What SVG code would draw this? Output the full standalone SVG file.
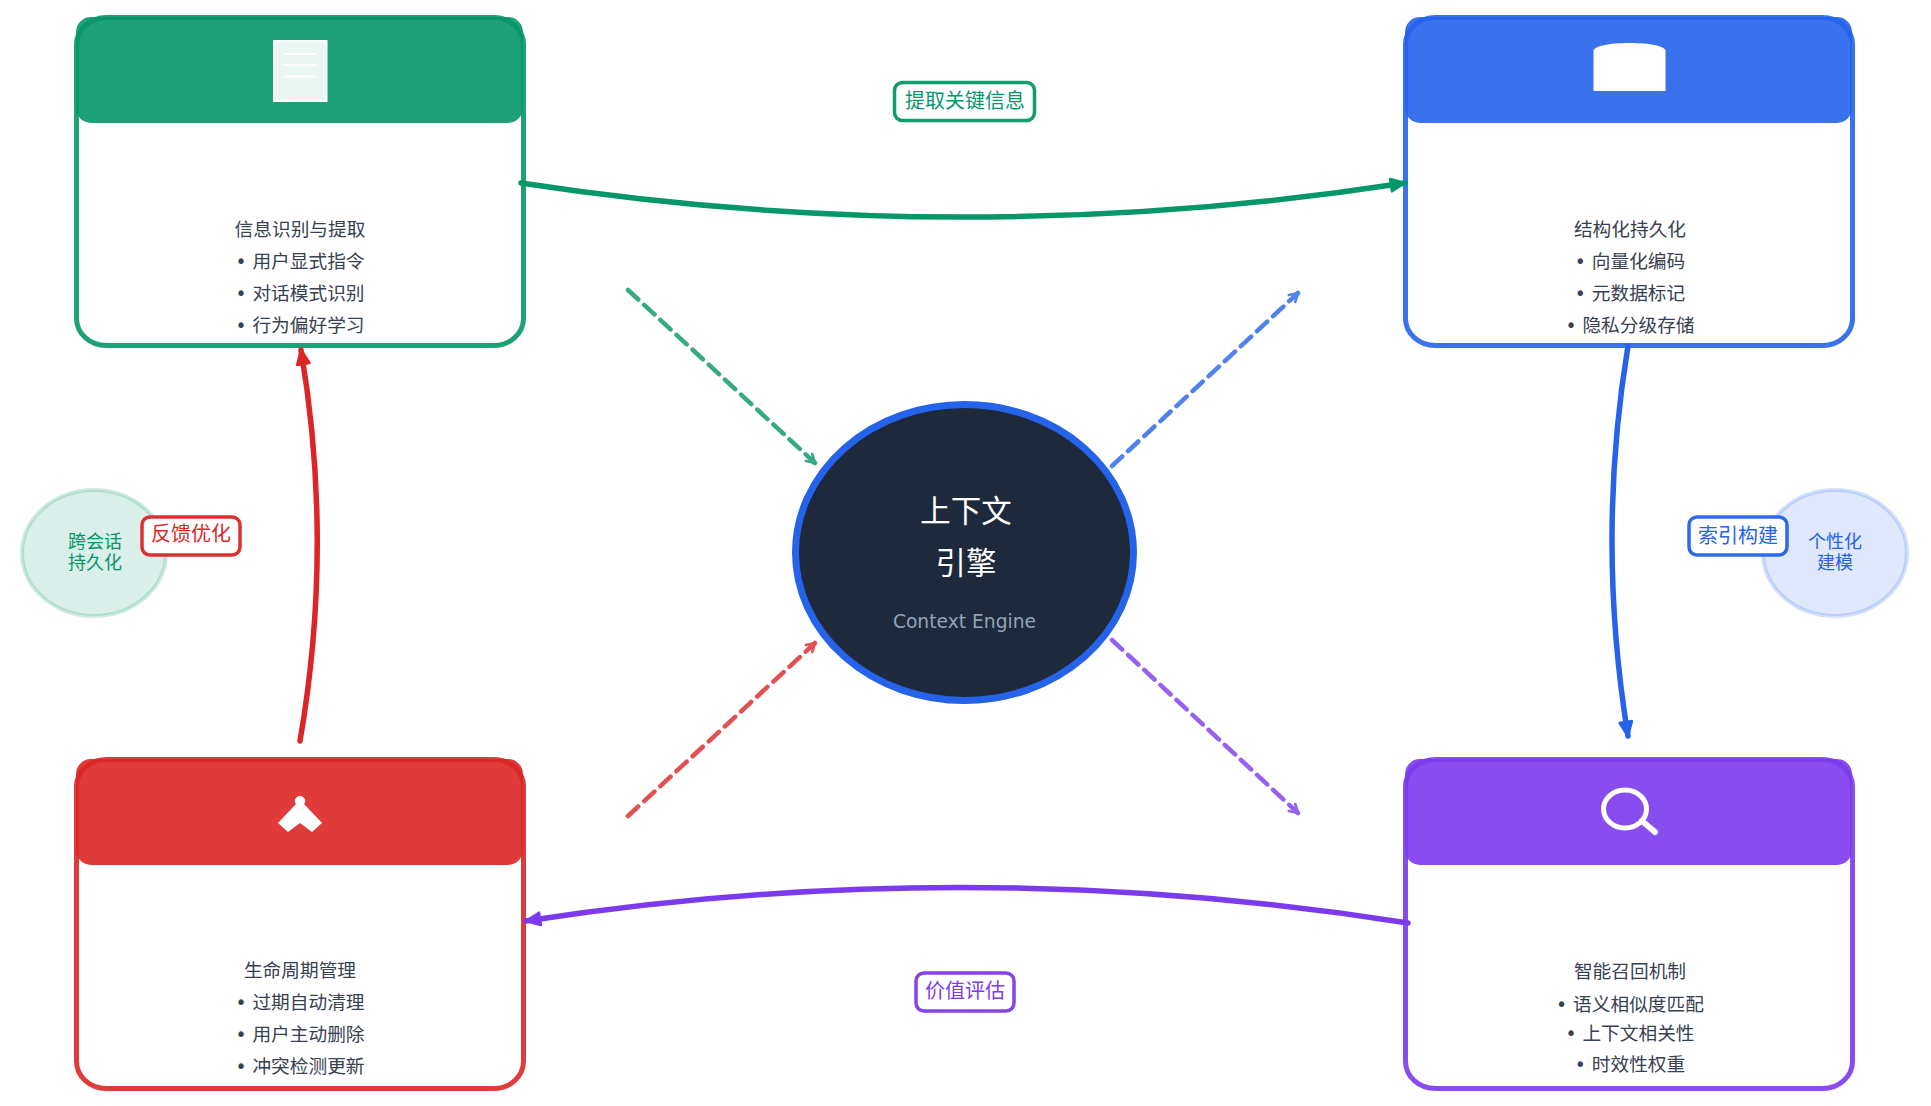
<svg xmlns="http://www.w3.org/2000/svg" width="1931" height="1106" viewBox="0 0 1931 1106">
<style>
text{font-family:"DejaVu Sans","Noto Sans CJK SC",sans-serif;text-anchor:middle}
.card{fill:#fff;stroke-width:5;stroke-opacity:.9}
.hd{opacity:.9}
.body{font-size:18.700px;fill:#374151}
.flow{fill:none;stroke-width:5.500;stroke-linecap:round}
.dash{fill:none;stroke-width:4.500;stroke-dasharray:14 8;stroke-linecap:round;opacity:.8}
.lab{fill:#fff;stroke-width:3.500;opacity:.95}
.labt{font-size:20px}
.side{font-size:18px}
.g{stroke:#059669}.b{stroke:#2563eb}.p{stroke:#7c3aed}.r{stroke:#dc2626}
.ah{stroke-linejoin:round;stroke-width:1.500}
.dh{fill:none;stroke-width:2;stroke-linecap:round;stroke-linejoin:round}
</style>
<defs>
<marker id="mg" viewBox="0 0 10 10" refX="9" refY="5" markerWidth="3.200" markerHeight="3.200" orient="auto"><path class="ah" d="M1 1.500L9 5L1 8.500z" fill="#059669" stroke="#059669"/></marker>
<marker id="mb" viewBox="0 0 10 10" refX="9" refY="5" markerWidth="3.200" markerHeight="3.200" orient="auto"><path class="ah" d="M1 1.500L9 5L1 8.500z" fill="#2563eb" stroke="#2563eb"/></marker>
<marker id="mp" viewBox="0 0 10 10" refX="9" refY="5" markerWidth="3.200" markerHeight="3.200" orient="auto"><path class="ah" d="M1 1.500L9 5L1 8.500z" fill="#7c3aed" stroke="#7c3aed"/></marker>
<marker id="mr" viewBox="0 0 10 10" refX="9" refY="5" markerWidth="3.200" markerHeight="3.200" orient="auto"><path class="ah" d="M1 1.500L9 5L1 8.500z" fill="#dc2626" stroke="#dc2626"/></marker>
<marker id="dg" viewBox="0 0 10 10" refX="9" refY="5" markerWidth="3" markerHeight="3" orient="auto"><path class="dh" d="M3 1.500L9 5L3 8.500" stroke="#059669"/></marker>
<marker id="db" viewBox="0 0 10 10" refX="9" refY="5" markerWidth="3" markerHeight="3" orient="auto"><path class="dh" d="M3 1.500L9 5L3 8.500" stroke="#2563eb"/></marker>
<marker id="dp" viewBox="0 0 10 10" refX="9" refY="5" markerWidth="3" markerHeight="3" orient="auto"><path class="dh" d="M3 1.500L9 5L3 8.500" stroke="#7c3aed"/></marker>
<marker id="dr" viewBox="0 0 10 10" refX="9" refY="5" markerWidth="3" markerHeight="3" orient="auto"><path class="dh" d="M3 1.500L9 5L3 8.500" stroke="#dc2626"/></marker>
</defs>
<rect width="1931" height="1106" fill="#fff"/>
<g id="side-green"><ellipse cx="94" cy="553" rx="72" ry="63" fill="#059669" fill-opacity=".15" stroke="#059669" stroke-opacity=".2" stroke-width="4"/>
<text class="side" x="95" y="548" fill="#059669">跨会话</text><text class="side" x="95" y="569" fill="#059669">持久化</text></g>
<g id="side-blue"><ellipse cx="1835" cy="553" rx="72" ry="63" fill="#2563eb" fill-opacity=".15" stroke="#2563eb" stroke-opacity=".2" stroke-width="4"/>
<text class="side" x="1835" y="548" fill="#2563eb">个性化</text><text class="side" x="1835" y="569" fill="#2563eb">建模</text></g>
<g id="card-extract"><rect class="card g" x="76.500" y="17.500" width="447" height="328" rx="30" ry="27"/>
<rect class="hd" x="76" y="17" width="447" height="106" rx="15" fill="#059669"/>
<rect x="274" y="41" width="52.500" height="60" fill="#fff" fill-opacity=".9" stroke="#fff" stroke-width="2"/>
<path d="M283 54H316M283 65H316M283 76.500H316" stroke="#fff" stroke-width="2"/>
<text class="body" x="300" y="236">信息识别与提取</text><text class="body" x="300" y="268">• 用户显式指令</text><text class="body" x="300" y="300">• 对话模式识别</text><text class="body" x="300" y="332">• 行为偏好学习</text></g>
<g id="card-store"><rect class="card b" x="1405.500" y="17.500" width="447" height="328" rx="30" ry="27"/>
<rect class="hd" x="1405" y="17" width="447" height="106" rx="15" fill="#2563eb"/>
<path d="M1593.500 91V51C1593.500 46 1609 43 1629.500 43S1665.500 46 1665.500 51V91Z" fill="#fff"/>
<text class="body" x="1630" y="236">结构化持久化</text><text class="body" x="1630" y="268">• 向量化编码</text><text class="body" x="1630" y="300">• 元数据标记</text><text class="body" x="1630" y="332">• 隐私分级存储</text></g>
<g id="card-lifecycle"><rect class="card r" x="76.500" y="759.500" width="447" height="329" rx="30" ry="27"/>
<rect class="hd" x="76" y="759" width="447" height="106" rx="15" fill="#dc2626"/>
<path d="M278 823L296 804A5 5 0 1 1 304 804L322 823L312 832L300 823L288 832Z" fill="#fff"/>
<text class="body" x="300" y="977">生命周期管理</text><text class="body" x="300" y="1009">• 过期自动清理</text><text class="body" x="300" y="1041">• 用户主动删除</text><text class="body" x="300" y="1073">• 冲突检测更新</text></g>
<g id="card-recall"><rect class="card p" x="1405.500" y="759.500" width="447" height="329" rx="30" ry="27"/>
<rect class="hd" x="1405" y="759" width="447" height="106" rx="15" fill="#7c3aed"/>
<ellipse cx="1625" cy="809" rx="21.500" ry="19" fill="none" stroke="#fff" stroke-width="5"/>
<path d="M1642 821L1655 832" stroke="#fff" stroke-width="6" stroke-linecap="round"/>
<text class="body" x="1630" y="978">智能召回机制</text><text class="body" x="1630" y="1011">• 语义相似度匹配</text><text class="body" x="1630" y="1040">• 上下文相关性</text><text class="body" x="1630" y="1071">• 时效性权重</text></g>
<g id="connectors">
<path class="flow g" d="M521 183Q965 251 1405 183" marker-end="url(#mg)"/>
<path class="flow b" d="M1628 346Q1596 540 1628 736" marker-end="url(#mb)"/>
<path class="flow p" d="M1408 923Q965 853 526 921" marker-end="url(#mp)"/>
<path class="flow r" d="M300 741Q334 545 301 350" marker-end="url(#mr)"/>
<path class="dash g" d="M628 290L815 463" marker-end="url(#dg)"/>
<path class="dash b" d="M1112 466L1298 293" marker-end="url(#db)"/>
<path class="dash p" d="M1112 640L1298 813" marker-end="url(#dp)"/>
<path class="dash r" d="M628 816L815 643" marker-end="url(#dr)"/>
</g>
<g id="center"><ellipse cx="964.500" cy="552.500" rx="169" ry="148" fill="#1e293b" stroke="#2563eb" stroke-width="7"/>
<text x="966" y="522" font-size="30.500" fill="#fff">上下文</text><text x="966" y="574" font-size="30.500" fill="#fff">引擎</text>
<text x="964.500" y="628" font-size="18.700" fill="#94a3b8">Context Engine</text></g>
<g id="label-extract"><rect class="lab g" x="894.500" y="82.500" width="140" height="38" rx="8"/><text class="labt" x="965" y="108" fill="#059669">提取关键信息</text></g>
<g id="label-index"><rect class="lab b" x="1689" y="517" width="98" height="38" rx="8"/><text class="labt" x="1738" y="543" fill="#2563eb">索引构建</text></g>
<g id="label-eval"><rect class="lab p" x="916" y="973" width="98" height="38" rx="8"/><text class="labt" x="965" y="998" fill="#7c3aed">价值评估</text></g>
<g id="label-feedback"><rect class="lab r" x="142" y="517" width="98" height="38" rx="8"/><text class="labt" x="191" y="541" fill="#dc2626">反馈优化</text></g>
</svg>
